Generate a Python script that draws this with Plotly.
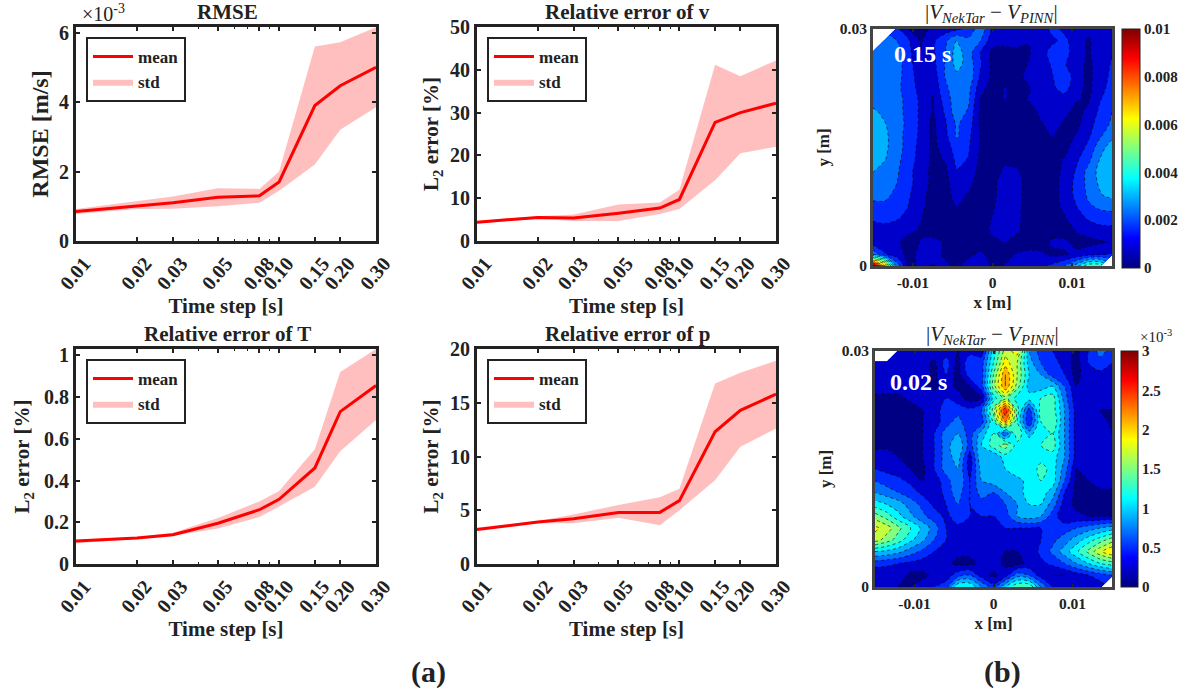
import plotly.graph_objects as go

W, H = 1185, 694
FONT = "Liberation Serif"
INK = "#222222"

time_steps = [0.01, 0.02, 0.03, 0.05, 0.08, 0.10, 0.15, 0.20, 0.30]
tick_labels = ["0.01", "0.02", "0.03", "0.05", "0.08", "0.10", "0.15", "0.20", "0.30"]
minor_ticks = [0.04, 0.06, 0.07, 0.09]

rmse_mean = [0.85, 1.02, 1.10, 1.26, 1.30, 1.70, 3.90, 4.47, 5.00]
rmse_up = [0.92, 1.15, 1.28, 1.52, 1.50, 2.00, 5.60, 5.72, 6.15]
rmse_lo = [0.78, 0.92, 0.93, 1.00, 1.10, 1.45, 2.20, 3.20, 3.85]

v_mean = [4.4, 5.5, 5.4, 6.5, 7.7, 9.7, 27.7, 30.0, 32.2]
v_up = [4.7, 5.8, 6.2, 8.5, 9.0, 12.0, 41.2, 38.5, 42.2]
v_lo = [4.1, 5.2, 4.7, 4.7, 6.3, 7.5, 14.2, 20.5, 22.0]

t_mean = [0.11, 0.125, 0.14, 0.195, 0.26, 0.31, 0.46, 0.73, 0.855]
t_up = [0.115, 0.13, 0.15, 0.22, 0.30, 0.35, 0.55, 0.92, 1.03]
t_lo = [0.10, 0.12, 0.135, 0.17, 0.225, 0.275, 0.37, 0.54, 0.69]

p_mean = [3.2, 3.9, 4.2, 4.8, 4.8, 5.9, 12.3, 14.3, 15.8]
p_up = [3.4, 4.0, 4.6, 5.5, 6.2, 7.0, 16.8, 17.8, 18.9]
p_lo = [3.1, 3.8, 3.8, 4.3, 3.6, 5.0, 7.8, 10.9, 12.6]

grid_x = [-0.015, -0.0135, -0.012, -0.0105, -0.009, -0.0075, -0.006, -0.0045, -0.003, -0.0015, 0,
          0.0015, 0.003, 0.0045, 0.006, 0.0075, 0.009, 0.0105, 0.012, 0.0135, 0.015]
grid_y = [0.03, 0.0285, 0.027, 0.0255, 0.024, 0.0225, 0.021, 0.0195, 0.018, 0.0165, 0.015,
          0.0135, 0.012, 0.0105, 0.009, 0.0075, 0.006, 0.0045, 0.003, 0.0015, 0]

# |V_NekTar - V_PINN| at 0.15 s, in 1e-3 units, top row first
err_015 = [
    [None, None, 1.5, .6, .3, .9, 1, 1.2, 1.5, 2.5, 1.2, 1, 1, 1, 1, 1.5, 1.2, 1, .8, 1, 1.2],
    [None, 2.2, 2, 1.4, .6, 1.2, 1.8, 2.7, 2.2, 2.0, .9, .9, .9, .7, .8, 1.2, 1.5, 1, .6, .9, 1.2],
    [2.3, 2.4, 2.3, 1.5, .7, 1.2, 1.9, 3, 2.3, 1.3, .5, .4, .5, .6, 1, 1.6, 1.6, 1, .6, 1, 1.3],
    [2.3, 2.4, 2.3, 1.6, .8, 1.1, 2, 2.9, 2.4, 1.4, .5, .4, .4, .7, 1, 1.4, 1.4, 1, .5, 1, 1.4],
    [2.3, 2.4, 2.2, 1.7, .9, .9, 2, 2.5, 2.5, 1.2, .5, .5, .5, .8, 1.1, 1.3, 1.8, 1, .5, 1, 1.5],
    [2.3, 2.4, 2.1, 1.8, 1, .8, 1.8, 2.5, 2.2, .9, .4, .7, .5, .6, 1, 1.2, 1.6, .9, .5, 1.1, 1.6],
    [2.4, 2.4, 2.2, 1.8, 1.2, .6, 1.6, 2.4, 2.1, .6, .3, .7, .5, .7, .9, 1.2, 1, .7, .6, 1.3, 1.8],
    [2.8, 2.5, 2.2, 1.8, 1.2, .6, 1.4, 2.4, 1.9, .5, .3, .3, .3, .3, .8, 1, .8, .5, .8, 1.5, 2],
    [3, 2.7, 2.3, 1.8, 1.2, .5, 1.2, 2.1, 1.7, .5, .2, .3, .2, .2, .6, .9, .6, .5, 1, 1.7, 2.1],
    [3.1, 2.8, 2.3, 1.7, 1.2, .5, 1.1, 2.1, 1.5, .6, .3, .4, .2, .2, .5, .7, .5, .7, 1.2, 1.9, 2.5],
    [3.1, 2.8, 2.3, 1.7, 1.1, .5, .9, 1.7, 1.4, .6, .3, .7, .3, .2, .3, .5, .5, .9, 1.5, 2.4, 3],
    [3, 2.7, 2.2, 1.6, 1.1, .5, .7, 1.5, 1.3, .5, .3, .5, .3, .2, .3, .5, .7, 1.2, 1.8, 2.7, 3.1],
    [2.7, 2.4, 2.1, 1.5, 1, .5, .5, 1.3, 1.1, .4, .3, .8, .8, .3, .3, .4, .8, 1.4, 2.2, 2.9, 3.2],
    [2.3, 2.3, 2, 1.5, 1, .5, .4, 1.1, .9, .3, .5, 1, 1, .3, .3, .4, .9, 1.5, 2.2, 2.8, 3.1],
    [2.1, 2.1, 1.9, 1.4, .9, .4, .4, .9, .6, .3, .5, 1, 1, .3, .3, .4, .9, 1.5, 2.1, 2.6, 2.9],
    [1.9, 1.9, 1.8, 1.3, .8, .4, .4, .7, .4, .3, .6, 1, .9, .3, .3, .4, .8, 1.3, 1.9, 2.1, 2.2],
    [1.4, 1.5, 1.4, 1.1, .7, .4, .3, .3, .3, .3, .7, 1, .9, .3, .3, .3, .6, 1, 1.4, 1.7, 1.7],
    [1.1, 1.1, .9, .8, .6, .3, .3, .3, .3, .3, .8, 1, .8, .3, .3, .3, .4, .7, .9, 1, 1.1],
    [1, .9, .8, .4, .7, .9, .6, .3, .3, .3, .5, .7, .4, .2, .3, .8, .8, .5, .5, .6, .7],
    [2.5, 1.4, .9, .5, .8, 1.1, .5, .4, .5, .8, .4, .5, .7, .9, .8, .5, .6, .8, 1, 1.2, 1.4],
    [10, 7, 2.5, .5, .8, .6, .9, .5, 1, 1, .6, .7, 1.1, 1, 1.1, 1.5, 2, 3, 4.5, 4.5, None],
]

# |V_NekTar - V_PINN| at 0.02 s, in 1e-3 units, top row first
err_002 = [
    [None, None, .4, .4, .4, .35, .3, .2, .3, .3, 1.1, 1.7, 1.9, .8, .5, .4, .3, .15, .4, .7, .5],
    [.3, .4, .35, .35, .3, .15, .5, .12, .6, .5, 1.2, 1.9, 1.6, .9, .6, .5, .3, .12, .4, .5, .4],
    [.3, .3, .3, .3, .3, .15, .4, .12, .5, .5, 1.4, 2.2, 1.6, 1, .8, .5, .4, .12, .35, .35, .35],
    [.3, .3, .3, .3, .25, .15, .3, .15, .2, .5, 1.5, 2.2, 1.5, .9, .9, 1, .6, .2, .3, .3, .3],
    [.15, .15, .15, .25, .3, .3, .4, .3, .1, .2, 1.1, 1.5, 1.1, 1.1, 1.2, 1.3, .7, .25, .3, .3, .25],
    [.1, .1, .1, .1, .2, .3, .5, .5, .45, .6, 1.5, 2.6, 1.3, .5, 1.3, 1.3, .8, .3, .3, .2, .2],
    [.1, .1, .1, .1, .2, .3, .5, .7, .4, .5, 1.2, 2.2, 1.2, .4, 1.2, 1.4, .8, .3, .3, .3, .15],
    [.1, .1, .1, .1, .2, .4, .7, .8, .5, .9, 1.2, .6, 1.4, .9, 1.2, 1.2, .8, .3, .3, .3, .2],
    [.15, .15, .1, .1, .2, .4, .7, 1, .5, 1, 1.3, 1.5, 1.1, 1.2, 1.2, 1.3, .8, .3, .35, .3, .3],
    [.3, .3, .2, .15, .2, .4, .7, .9, .3, 1, .8, 1.1, 1.1, 1.2, 1.1, 1.1, .8, .3, .3, .25, .3],
    [.4, .35, .3, .2, .15, .4, .7, .8, .3, .9, 1, 1, 1.2, 1, 1.3, 1.1, .7, .2, .25, .4, .3],
    [.6, .5, .45, .35, .2, .3, .5, .8, .4, .8, .9, .9, .9, 1.1, 1.2, 1.1, .6, .15, .2, .3, .3],
    [.8, .7, .6, .5, .35, .2, .5, .7, .4, .7, .6, .8, .9, 1.1, 1.1, .9, .4, .15, .15, .15, .15],
    [1.1, 1, .9, .7, .55, .35, .4, .6, .4, .5, .5, .6, .8, 1, 1, .7, .3, .15, .1, .1, .1],
    [1.5, 1.3, 1.05, .85, .65, .5, .35, .5, .4, .4, .4, .5, .8, .9, .8, .5, .25, .25, .2, .2, .2],
    [1.85, 1.7, 1.45, 1.2, .95, .7, .4, .35, .4, .3, .35, .4, .4, .4, .4, .45, .5, .6, .7, .8, .9],
    [1.7, 1.5, 1.3, 1.05, .85, .6, .4, .3, .3, .3, .3, .3, .3, .3, .4, .55, .7, .9, 1.1, 1.3, 1.5],
    [1, .95, .85, .7, .55, .4, .3, .25, .25, .25, .3, .2, .2, .25, .45, .65, .9, 1.15, 1.45, 1.75, 2],
    [.5, .45, .4, .35, .3, .25, .25, .15, .15, .25, .3, .15, .15, .25, .35, .45, .6, .8, 1, 1.2, 1.3],
    [.2, .25, .3, .15, .15, .25, .3, .5, .6, .3, .15, .3, .7, .6, .3, .2, .2, .3, .4, .5, .6],
    [.4, .4, .2, .2, .3, .4, .5, 1.2, 1.2, .8, .5, 1, 1.4, 1.4, .8, .4, .4, .3, .3, .3, None],
]

JET = [[0, "#00007f"], [0.125, "#0000ff"], [0.375, "#00ffff"],
       [0.625, "#ffff00"], [0.875, "#ff0000"], [1, "#7f0000"]]
JET_FILL = [[0, "#00007f"], [0.07, "#00008c"], [0.125, "#0000ff"], [0.375, "#00ffff"],
            [0.625, "#ffff00"], [0.875, "#ff0000"], [1, "#7f0000"]]


def dom_x(a, b):
    return [a / W, b / W]


def dom_y(top, bottom):
    return [1 - bottom / H, 1 - top / H]


def font(size, color=INK, weight=700):
    return dict(family=FONT, size=size, color=color, weight=weight)


fig = go.Figure()
annotations = []


def note(x, y, text, size=18, color=INK, weight=700, angle=0):
    annotations.append(dict(x=x / W, y=1 - y / H, xref="paper", yref="paper", text=text, showarrow=False,
                            font=font(size, color, weight), textangle=angle,
                            xanchor="center", yanchor="middle"))


line_panels = [
    ("1", "RMSE", "RMSE [m/s]", 24, 4, rmse_mean, rmse_up, rmse_lo, (76, 376, 27, 241), [0, 6.16], [0, 2, 4, 6],
     "legend"),
    ("2", "Relative error of v", "L<sub>2</sub> error [%]", 21, 6, v_mean, v_up, v_lo, (477, 776, 27, 241), [0, 50],
     [0, 10, 20, 30, 40, 50], "legend2"),
    ("3", "Relative error of T", "L<sub>2</sub> error [%]", 21, 9, t_mean, t_up, t_lo, (76, 376, 349, 564), [0, 1.03],
     [0, 0.2, 0.4, 0.6, 0.8, 1], "legend3"),
    ("4", "Relative error of p", "L<sub>2</sub> error [%]", 21, 6, p_mean, p_up, p_lo, (477, 776, 349, 564), [0, 20],
     [0, 5, 10, 15, 20], "legend4"),
]

layout_axes = {}
legends = {}
for key, title, ylab, ysize, ygap, mean, up, lo, (l, r, t, b), yr, yt, leg in line_panels:
    xa, ya = "x" + key, "y" + key
    fig.add_trace(go.Scatter(x=time_steps + time_steps[::-1], y=up + lo[::-1], mode="lines", fill="toself",
                             fillcolor="rgba(255,0,0,0.25)", line=dict(width=0), name="std",
                             xaxis=xa, yaxis=ya, legend=leg, legendrank=2, hoverinfo="skip"))
    fig.add_trace(go.Scatter(x=time_steps, y=mean, mode="lines", line=dict(color="#ff0000", width=3), name="mean",
                             xaxis=xa, yaxis=ya, legend=leg, legendrank=1))
    layout_axes["xaxis" + key] = dict(
        domain=dom_x(l, r), type="log", range=[-2, -0.5229], anchor=ya, tickmode="array",
        tickvals=time_steps, ticktext=tick_labels, tickangle=-50, ticks="inside", ticklen=4, tickwidth=2,
        tickcolor=INK, showline=True, linecolor=INK, linewidth=3, mirror="ticks", showgrid=False, zeroline=False,
        tickfont=font(20), automargin=False, ticklabelshift=8,
        minor=dict(tickmode="array", tickvals=minor_ticks, ticks="inside", ticklen=2, tickwidth=1, tickcolor=INK),
        title=dict(text="Time step [s]", font=font(21), standoff=4),
    )
    layout_axes["yaxis" + key] = dict(
        domain=dom_y(t, b), range=yr, anchor=xa, tickmode="array", tickvals=yt, ticks="inside", ticklen=4,
        tickwidth=2, tickcolor=INK, showline=True, linecolor=INK, linewidth=3, mirror="ticks", showgrid=False,
        zeroline=False, tickfont=font(20), automargin=False, title=dict(text=ylab, font=font(ysize), standoff=ygap),
    )
    legends[leg] = dict(x=(l + 10) / W, y=1 - (t + 10) / H, xanchor="left", yanchor="top", bgcolor="white",
                        bordercolor=INK, borderwidth=2, font=font(17), itemwidth=40, tracegroupgap=0,
                        traceorder="normal")
    note((l + r) / 2 + 1, t - 15, title, size=21)

note(103, 13, "×10<sup>-3</sup>", size=20, weight=400)

map_panels = [
    ("5", err_015, (873, 1112, 29, 266), (1122, 1140, 29, 268), 10, [0, 2, 4, 6, 8, 10],
     ["0", "0.002", "0.004", "0.006", "0.008", "0.01"], "0.15 s", (922, 54)),
    ("6", err_002, (875, 1112, 351, 587), (1121, 1138, 351, 587), 3, [0, 0.5, 1, 1.5, 2, 2.5, 3],
     ["0", "0.5", "1", "1.5", "2", "2.5", "3"], "0.02 s", (918, 382)),
]
for key, z, (l, r, t, b), (cl, cr, ct, cb), vmax, cticks, clabels, stamp, (sx, sy) in map_panels:
    xa, ya = "x" + key, "y" + key
    fig.add_trace(go.Contour(
        x=grid_x, y=grid_y, z=z, xaxis=xa, yaxis=ya, colorscale=JET_FILL, zmin=0, zmax=vmax, showscale=False,
        autocontour=False, contours=dict(start=0, end=vmax, size=vmax / 15, coloring="fill", showlines=True),
        line=dict(color="black", width=0.6, dash="dot", smoothing=0.9), connectgaps=False, hoverinfo="skip",
    ))
    fig.add_trace(go.Scatter(
        x=[grid_x[0], grid_x[0]], y=[grid_y[-1], grid_y[-1]], mode="markers", xaxis=xa, yaxis=ya, showlegend=False,
        hoverinfo="skip",
        marker=dict(size=0.1, color=[0, vmax], cmin=0, cmax=vmax, colorscale=JET, showscale=True,
                    colorbar=dict(x=cl / W, xanchor="left", xref="paper", y=1 - cb / H, yanchor="bottom",
                                  yref="paper", len=(cb - ct) / H, lenmode="fraction", thickness=cr - cl,
                                  thicknessmode="pixels", outlinecolor=INK, outlinewidth=1, borderwidth=0, ticks="",
                                  tickmode="array", tickvals=cticks, ticktext=clabels, tickfont=font(15),
                                  ticklabelposition="outside", xpad=0, ypad=0)),
    ))
    layout_axes["xaxis" + key] = dict(
        domain=dom_x(l, r), range=[-0.015, 0.015], anchor=ya, tickmode="array", tickvals=[-0.01, 0, 0.01],
        ticktext=["-0.01", "0", "0.01"], ticks="inside", ticklen=3, tickwidth=2, tickcolor=INK, showline=True,
        linecolor="#444444", linewidth=3, mirror="ticks", showgrid=False, zeroline=False, tickfont=font(15.5),
        automargin=False, title=dict(text="x [m]", font=font(17), standoff=7),
    )
    layout_axes["yaxis" + key] = dict(
        domain=dom_y(t, b), range=[0, 0.03], anchor=xa, tickmode="array", tickvals=[0, 0.03],
        ticktext=["0", "0.03"], ticks="", showline=True, linecolor="#444444", linewidth=3, mirror=True,
        showgrid=False, zeroline=False, tickfont=font(15.5), automargin=False,
        title=dict(text="y [m]", font=font(17), standoff=6),
    )
    note(sx, sy, stamp, size=24, color="white")
    note((l + r) / 2 - 1, t - 16,
         "|<i>V</i><sub><i>NekTar</i></sub> − <i>V</i><sub><i>PINN</i></sub>|", size=21, weight=400)

note(1156, 336, "×10<sup>-3</sup>", size=15, weight=400)
note(428, 672, "(a)", size=30)
note(1002, 672, "(b)", size=30)

fig.update_layout(
    width=W, height=H, margin=dict(l=0, r=0, t=0, b=0, autoexpand=False), paper_bgcolor="white",
    plot_bgcolor="white", font=dict(family=FONT, color=INK), showlegend=True, annotations=annotations,
    **layout_axes, **legends,
)
fig.write_html("out.html", config=dict(displayModeBar=False),
               post_script="document.body.style.margin='0';document.documentElement.style.overflow='hidden';")
